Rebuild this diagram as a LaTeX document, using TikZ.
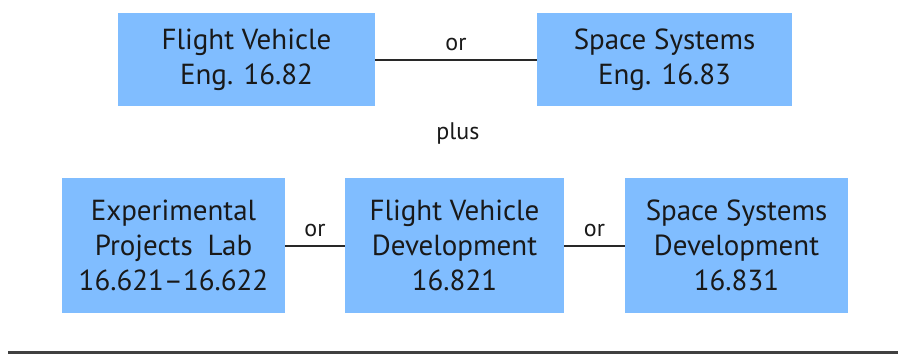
\documentclass[tikz,border=0pt]{standalone}
\usepackage{fontspec}
\setmainfont{PT Sans}
\definecolor{boxblue}{RGB}{128,189,255}
\definecolor{linegray}{RGB}{40,40,40}
\tikzset{
  box/.style={fill=boxblue, draw=none, inner sep=0pt, align=center, font=\fontsize{29}{35}\selectfont, text=black!90},
  link/.style={draw=linegray, line width=2pt},
  lbl/.style={font=\fontsize{24}{26}\selectfont, text=black!90, inner sep=0pt}
}
\begin{document}
\begin{tikzpicture}[x=1pt,y=-1pt]
\useasboundingbox (0,0) rectangle (898,356);
\node[box, minimum width=257pt, minimum height=93pt] (fve) at (246.5,59.5) {Flight Vehicle\\Eng. 16.82};
\node[box, minimum width=255pt, minimum height=93pt] (sse) at (664.5,59.5) {Space Systems\\Eng. 16.83};
\draw[link] (fve.east) -- node[lbl, above=8pt] (or1) {or} (sse.west);
\node[lbl] (plus) at (458,133) {plus};
\node[box, minimum width=223pt, minimum height=135pt] (epl) at (173.5,245.5) {Experimental\\Projects\hspace{0.25em} Lab\\16.621–16.622};
\node[box, minimum width=219pt, minimum height=135pt] (fvd) at (454.5,245.5) {Flight Vehicle\\Development\\16.821};
\node[box, minimum width=223pt, minimum height=135pt] (ssd) at (736.5,245.5) {Space Systems\\Development\\16.831};
\draw[link] (epl.east) -- node[lbl, above=8pt] (or2) {or} (fvd.west);
\draw[link] (fvd.east) -- node[lbl, above=8pt] (or3) {or} (ssd.west);
\coordinate (rl) at (8,352);
\coordinate (rr) at (898,352);
\draw[draw=black!75, line width=3pt] (rl) -- (rr);
\end{tikzpicture}
\end{document}
